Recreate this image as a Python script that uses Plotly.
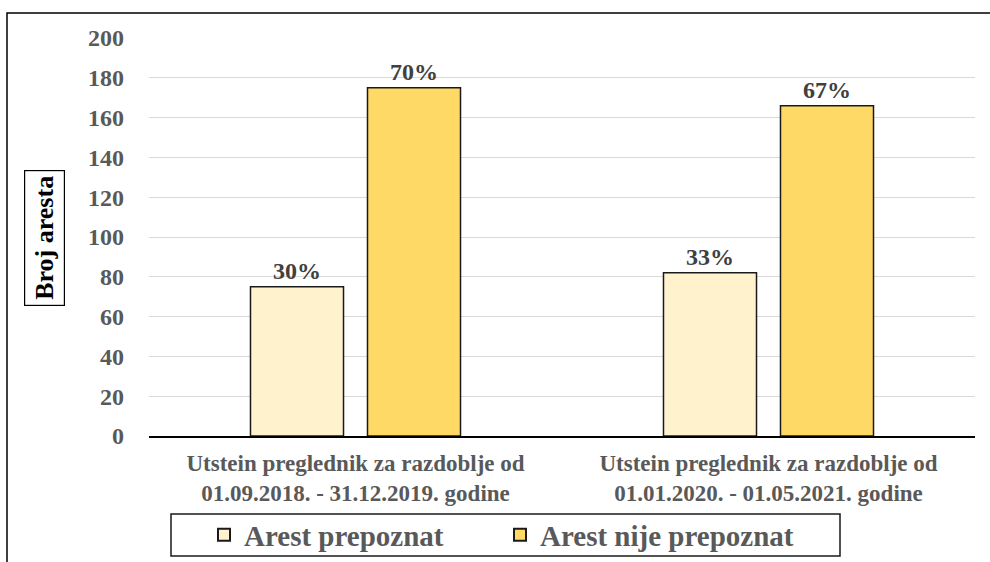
import plotly.graph_objects as go

categories = ["Utstein preglednik za razdoblje od<br>01.09.2018. - 31.12.2019. godine",
              "Utstein preglednik za razdoblje od<br>01.01.2020. - 01.05.2021. godine"]
series_names = ["Arest prepoznat", "Arest nije prepoznat"]
recognized = [75, 82]
not_recognized = [175, 166]
recognized_pct = ["30%", "33%"]
not_recognized_pct = ["70%", "67%"]
y_ticks = [0, 20, 40, 60, 80, 100, 120, 140, 160, 180, 200]

FONT = "Liberation Serif"
L, R, T, B = 149, 15, 38, 126
W, H = 990, 562
pw = W - L - R
ph = H - T - B

def px_x(x):
    return (x - L) / pw

def px_y(y):
    return (H - B - y) / ph

fig = go.Figure()
fig.add_trace(go.Bar(
    x=categories, y=recognized, name=series_names[0],
    marker=dict(color="#FFF2CC", line=dict(color="#1a1a1a", width=1.5)),
    text=recognized_pct, textposition="outside", cliponaxis=False,
    textfont=dict(family=FONT, size=24, color="#404040", weight="bold"),
))
fig.add_trace(go.Bar(
    x=categories, y=not_recognized, name=series_names[1],
    marker=dict(color="#FFD966", line=dict(color="#1a1a1a", width=1.5)),
    text=not_recognized_pct, textposition="outside", cliponaxis=False,
    textfont=dict(family=FONT, size=24, color="#404040", weight="bold"),
))

fig.update_layout(
    width=W, height=H,
    margin=dict(l=L, r=R, t=T, b=B, pad=0, autoexpand=False),
    paper_bgcolor="white", plot_bgcolor="white",
    barmode="group", bargap=0.4334, bargroupgap=0.205,
    showlegend=True,
    legend=dict(
        orientation="h", xref="container", yref="container",
        x=(214 - 10) / W, xanchor="left", y=(H - 535) / H, yanchor="middle",
        borderwidth=0, bgcolor="rgba(0,0,0,0)",
        font=dict(family=FONT, size=29, color="#595959", weight="bold"),
        itemsizing="constant", entrywidth=251, tracegroupgap=0, itemwidth=30,
    ),
    xaxis=dict(
        showline=True, linecolor="black", linewidth=1.5, ticks="", automargin=False,
        ticklabelstandoff=6,
        tickfont=dict(family=FONT, size=23, color="#595959", weight="bold"),
        showgrid=False,
    ),
    yaxis=dict(
        range=[0, 200], tickvals=y_ticks, showgrid=True, gridcolor="#d9d9d9", gridwidth=1,
        zeroline=False, showline=False, ticks="", ticklabelstandoff=24, automargin=False,
        tickfont=dict(family=FONT, size=24, color="#595959", weight="bold"),
    ),
    annotations=[dict(
        text="Broj aresta", textangle=-90, xref="paper", yref="paper",
        x=px_x(44.5), y=px_y(238.5), xanchor="center", yanchor="middle", showarrow=False,
        font=dict(family=FONT, size=26, color="black", weight="bold"),
        bordercolor="black", borderwidth=1.2, borderpad=5,
    )],
    shapes=[
        dict(
            type="path", xref="paper", yref="paper",
            path=f"M {px_x(7)} {px_y(570)} L {px_x(7)} {px_y(13)} L {px_x(995)} {px_y(13)}",
            line=dict(color="black", width=1.5),
        ),
        dict(
            type="rect", xref="paper", yref="paper",
            x0=px_x(171), x1=px_x(840), y0=px_y(556), y1=px_y(514),
            line=dict(color="#1a1a1a", width=1.5), fillcolor="rgba(0,0,0,0)",
        ),
    ],
)

fig.write_html(
    "out.html",
    config={"displayModeBar": False},
    post_script="document.body.style.margin='0';document.body.style.overflow='hidden';",
)
